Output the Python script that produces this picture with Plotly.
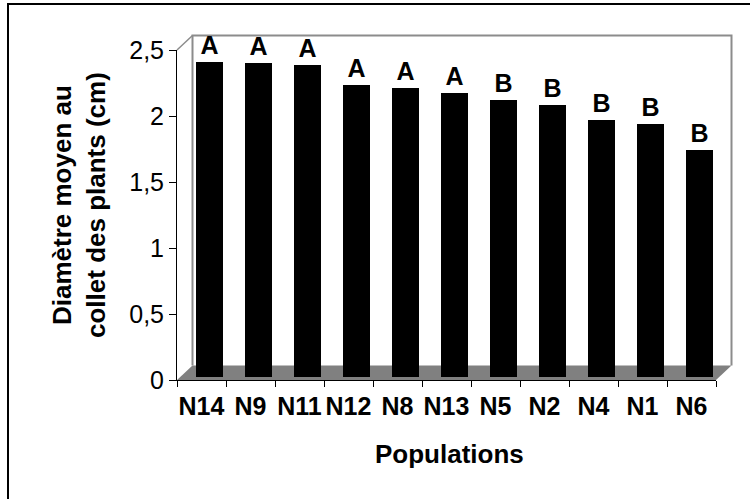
import plotly.graph_objects as go

# ---- data ----
populations = ["N14", "N9", "N11", "N12", "N8", "N13", "N5", "N2", "N4", "N1", "N6"]
diametre = [2.39, 2.38, 2.36, 2.21, 2.19, 2.15, 2.10, 2.06, 1.95, 1.92, 1.72]
groupes = ["A", "A", "A", "A", "A", "A", "B", "B", "B", "B", "B"]
y_tick_vals = [0, 0.5, 1, 1.5, 2, 2.5]
y_tick_text = ["0", "0,5", "1", "1,5", "2", "2,5"]

FONT = "Liberation Sans, Arial, Helvetica, sans-serif"
W, H = 750, 499
ML, MR, MT, MB = 177, 34, 50, 119
PW = W - ML - MR          # plot width in px
PH = H - MT - MB          # plot height in px

# 3D depth offset of the back wall (px -> paper)
DX = 15.5 / PW
DY = 14.5 / PH
# bar offset inside the depth (in category units / value units)
cat_px = PW / len(populations)
bar_shift = 8.0 / cat_px
base_shift = 3.0 / (PH / 2.5)

fig = go.Figure()

# invisible trace to carry the front category axis
fig.add_trace(go.Scatter(
    x=populations, y=diametre, mode="markers",
    marker=dict(opacity=0), hoverinfo="skip", showlegend=False,
    xaxis="x", yaxis="y"))

# the bars, drawn slightly inside the depth of the 3D box
fig.add_trace(go.Bar(
    x=populations, y=diametre, text=groupes,
    textposition="outside", cliponaxis=False, constraintext="none",
    textfont=dict(family=FONT, size=25, color="black", weight="bold"),
    marker=dict(color="black", line=dict(width=0)),
    width=0.55, showlegend=False,
    xaxis="x2", yaxis="y2"))

shapes = [
    # outer chart frame (only left and top visible)
    dict(type="rect", xref="paper", yref="paper",
         x0=(8 - ML) / PW, x1=1.3, y0=-0.6, y1=(H - MB - 4) / PH,
         line=dict(color="black", width=2), fillcolor="rgba(0,0,0,0)", layer="below"),
    # floor
    dict(type="path", xref="paper", yref="paper",
         path=f"M 0,0 L 1,0 L {1+DX},{DY} L {DX},{DY} Z",
         fillcolor="#808080", line=dict(width=0), layer="below"),
    # back wall outline
    dict(type="path", xref="paper", yref="paper",
         path=f"M {DX},{DY} L {DX},{1+DY} L {1+DX},{1+DY} L {1+DX},{DY}",
         line=dict(color="#8c8c8c", width=2), layer="below"),
    # connector from axis top to back wall
    dict(type="line", xref="paper", yref="paper",
         x0=0, y0=1, x1=DX, y1=1 + DY,
         line=dict(color="#8c8c8c", width=1.5), layer="below"),
]

annotations = [
    dict(text="Diamètre moyen au<br>collet des plants (cm)",
         xref="paper", yref="paper", x=(79 - ML) / PW, y=(H - MB - 205) / PH,
         xanchor="center", yanchor="middle", textangle=-90, showarrow=False,
         font=dict(family=FONT, size=26, color="black", weight="bold")),
    dict(text="Populations",
         xref="paper", yref="paper", x=(449 - ML) / PW, y=(H - MB - 454) / PH,
         xanchor="center", yanchor="middle", showarrow=False,
         font=dict(family=FONT, size=26, color="black", weight="bold")),
]

fig.update_layout(
    width=W, height=H,
    margin=dict(l=ML, r=MR, t=MT, b=MB, pad=0),
    paper_bgcolor="white", plot_bgcolor="white",
    font=dict(family=FONT, color="black"),
    showlegend=False,
    bargap=0,
    xaxis=dict(type="category", categoryorder="array", categoryarray=populations,
               range=[-0.5, len(populations) - 0.5],
               showline=True, linecolor="black", linewidth=1,
               ticks="outside", tickson="boundaries", ticklen=6, tickcolor="black",
               tickangle=0,
               tickfont=dict(family=FONT, size=25, color="black", weight="bold"),
               showgrid=False, zeroline=False, fixedrange=True,
               ticklabelstandoff=4),
    yaxis=dict(range=[0, 2.5], tickvals=y_tick_vals, ticktext=y_tick_text,
               showline=True, linecolor="black", linewidth=1,
               ticks="outside", ticklen=7, tickcolor="black",
               tickfont=dict(family=FONT, size=25, color="black"),
               showgrid=False, zeroline=False, fixedrange=True,
               ticklabelstandoff=0),
    xaxis2=dict(type="category", categoryorder="array", categoryarray=populations,
                overlaying="x", anchor="y2", visible=False,
                range=[-0.5 - bar_shift, len(populations) - 0.5 - bar_shift]),
    yaxis2=dict(overlaying="y", anchor="x2", visible=False,
                range=[-base_shift, 2.5 - base_shift]),
    shapes=shapes,
    annotations=annotations,
)

fig.write_html("out.html")
